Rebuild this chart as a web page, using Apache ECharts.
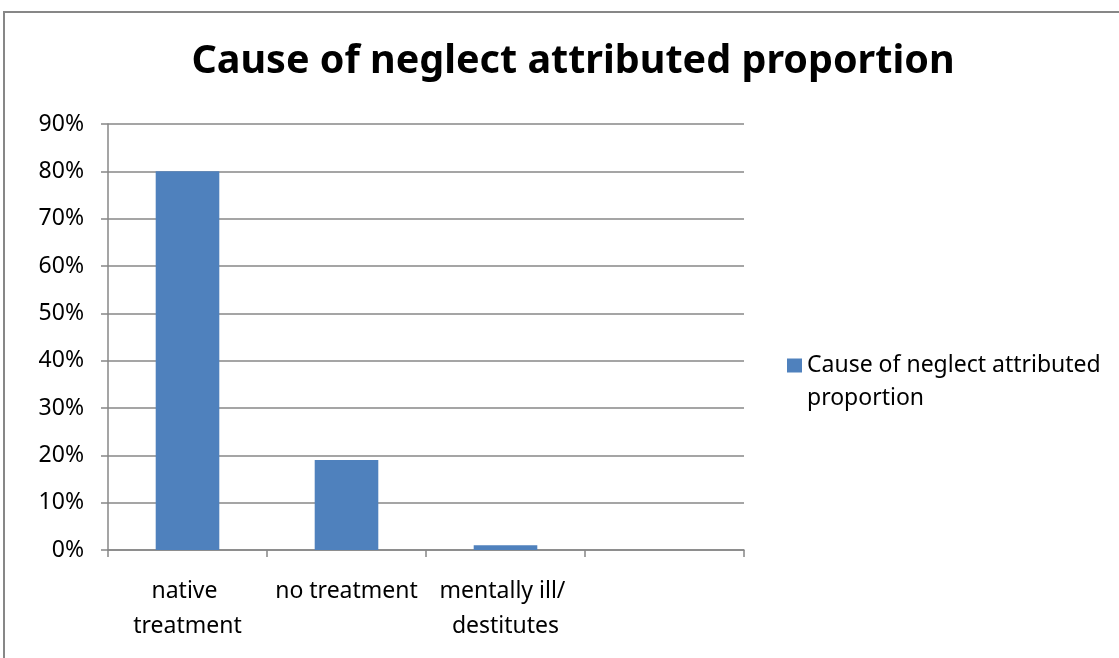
<!DOCTYPE html>
<html>
<head>
<meta charset="utf-8">
<script src="https://cdn.jsdelivr.net/npm/echarts@6/dist/echarts.min.js"></script>
<style>
html,body{margin:0;padding:0;background:#fff;}
#chart{width:1119px;height:658px;}
</style>
</head>
<body>
<div id="chart"></div>
<script>
// Chart data
const chartTitle = 'Cause of neglect attributed proportion';
const seriesName = 'Cause of neglect attributed proportion';
const categories = ['native treatment', 'no treatment', 'mentally ill/ destitutes', ''];
const values = [0.80, 0.19, 0.01, null];
const yTicks = [0, 0.1, 0.2, 0.3, 0.4, 0.5, 0.6, 0.7, 0.8, 0.9];

const FONT = 'Noto Sans';
const chart = echarts.init(document.getElementById('chart'), null, { renderer: 'canvas' });

chart.setOption({
  backgroundColor: '#ffffff',
  animation: false,
  graphic: [{
    type: 'rect',
    shape: { x: 4, y: 12, width: 1130, height: 660 },
    style: { fill: 'none', stroke: '#878787', lineWidth: 2 },
    silent: true
  }],
  title: {
    text: chartTitle,
    left: 568, top: 37,
    textAlign: 'center',
    textStyle: { fontFamily: FONT, fontWeight: 'bold', fontSize: 39.5, color: '#000' }
  },
  legend: {
    left: 787, top: 316, padding: 0,
    itemWidth: 15, itemHeight: 14, itemGap: 6,
    icon: 'rect',
    // blank leading line keeps the swatch level with the first text line
    formatter: () => '\nCause of neglect attributed\nproportion',
    textStyle: { fontFamily: FONT, fontSize: 23, color: '#000', lineHeight: 33 },
    data: [seriesName]
  },
  grid: { left: 108, right: 375, top: 124, bottom: 108, containLabel: false },
  xAxis: {
    type: 'category',
    data: categories,
    axisLine: { lineStyle: { color: '#878787', width: 1.5 } },
    axisTick: { show: true, length: 7, alignWithLabel: false, lineStyle: { color: '#878787', width: 1.5 } },
    axisLabel: {
      interval: 0, margin: 24, color: '#000',
      fontFamily: FONT, fontSize: 23, lineHeight: 35,
      width: 158, overflow: 'break'
    }
  },
  yAxis: {
    type: 'value',
    min: 0, max: 0.9, interval: 0.1,
    axisLine: { show: true, lineStyle: { color: '#878787', width: 1.5 } },
    axisTick: { show: true, length: 7, lineStyle: { color: '#878787', width: 1.5 } },
    splitLine: { show: true, lineStyle: { color: '#878787', width: 1.5 } },
    axisLabel: {
      margin: 24, color: '#000', fontFamily: FONT, fontSize: 23,
      formatter: v => Math.round(v * 100) + '%'
    }
  },
  series: [{
    name: seriesName,
    type: 'bar',
    data: values,
    barWidth: '40%',
    itemStyle: { color: '#4F81BD' }
  }]
});
</script>
</body>
</html>
